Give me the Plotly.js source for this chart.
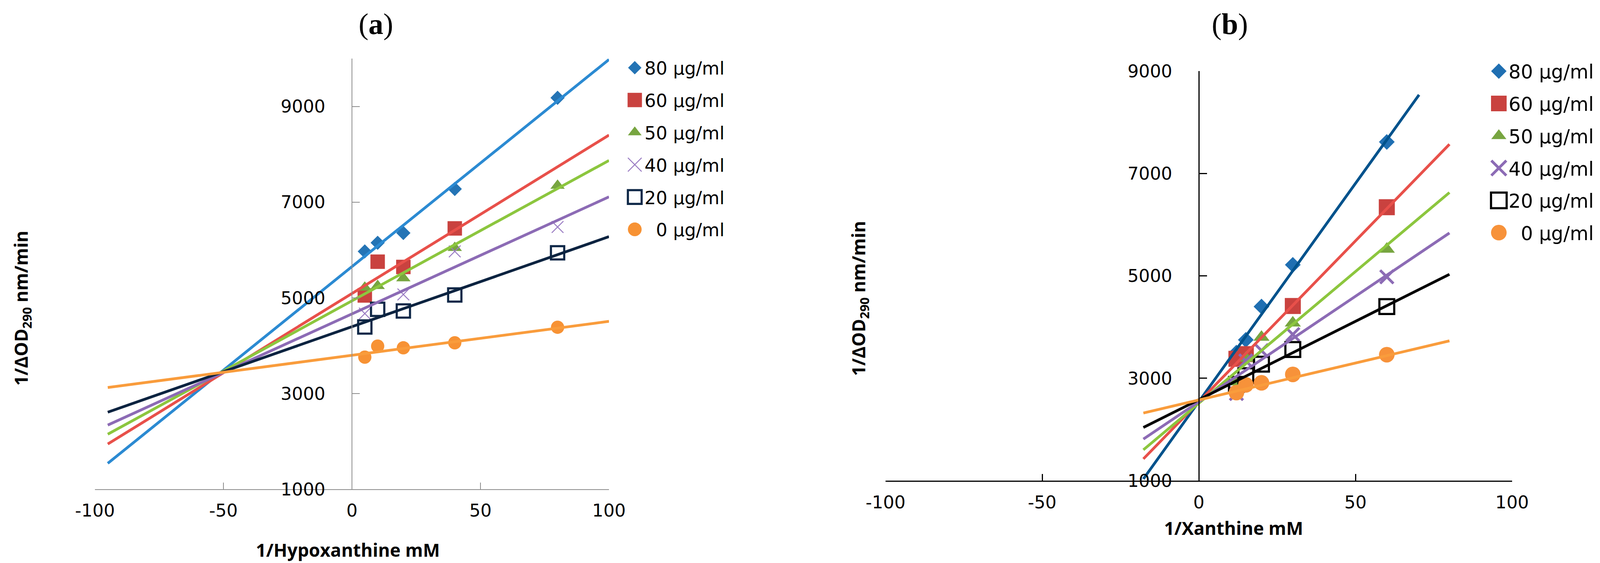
<!DOCTYPE html>
<html><head><meta charset="utf-8">
<script src="https://cdn.plot.ly/plotly-3.0.1.min.js"></script>
<style>html,body{margin:0;padding:0;background:#fff}</style>
</head><body>
<div id="chart" style="width:4138px;height:1442px"></div>
<script>
// ---------- data ----------
const seriesNames = ['80 μg/ml', '60 μg/ml', '50 μg/ml', '40 μg/ml', '20 μg/ml', '\u00a0\u00a00 μg/ml'];

// Panel (a): 1/Hypoxanthine mM
const xA = [5, 10, 20, 40, 80];
const a80 = [5970, 6150, 6355, 7275, 9180];
const a60 = [5050, 5755, 5645, 6450, null];
const a50 = [5215, 5250, 5410, 6045, 7345];
const a40 = [4670, null, 5070, 5970, 6480];
const a20 = [4390, 4760, 4725, 5060, 5940];
const a0  = [3760, 3990, 3955, 4060, 4385];
// trend lines (a): end points
const xTrendA = [-95, 100];
const tA80 = [1540, 9980];
const tA60 = [1945, 8400];
const tA50 = [2150, 7870];
const tA40 = [2340, 7110];
const tA20 = [2610, 6278];
const tA0  = [3125, 4508];

// Panel (b): 1/Xanthine mM
const xB = [12, 15, 20, 30, 60];
const b80 = [3500, 3750, 4400, 5215, 7615];
const b60 = [3380, 3470, null, 4410, 6340];
const b50 = [2930, 3390, 3800, 4080, 5520];
const b40 = [2700, 3340, 3540, 3855, 4980];
const b20 = [2880, 3050, 3275, 3560, 4400];
const b0  = [2720, 2870, 2910, 3075, 3460];
const xTrendB = [-17.7, 80];
const xTrendB80 = [-17.7, 70.3];
const tB80 = [1033, 8536];
const tB60 = [1424, 7570];
const tB50 = [1601, 6627];
const tB40 = [1811, 5837];
const tB20 = [2038, 5030];
const tB0  = [2320, 3730];

// ticks
const xTicks = [-100, -50, 0, 50, 100];
const yTicksA = [1000, 3000, 5000, 7000, 9000];
const yTicksB = [1000, 3000, 5000, 7000, 9000];

// ---------- styles ----------
const W = 4138, H = 1442;
const FONT = 'DejaVu Sans, Open Sans, sans-serif';
const TFONT = 'Open Sans, DejaVu Sans, sans-serif';
const SERIF = 'Liberation Serif, DejaVu Serif, serif';

const stA = [
  {sym: 'diamond',      mc: '#2474b5', lc: '#2b8ad2', size: 28, lw: 0, ls: 1.65},
  {sym: 'square',       mc: '#c9423f', lc: '#e8504a', size: 37, lw: 0, ls: 2.3},
  {sym: 'triangle-up',  mc: '#77a540', lc: '#8cc63e', size: 32, lw: 0, ls: 1.9},
  {sym: 'x-thin-open',  mc: '#9a7cc3', lc: '#8c6bb5', size: 30, lw: 2.5, ls: 2.2},
  {sym: 'square-open',  mc: '#0f2848', lc: '#0c2340', size: 34, lw: 5.5, ls: 2.2},
  {sym: 'circle',       mc: '#f79234', lc: '#f99c3c', size: 34, lw: 0, ls: 2.2}
];
const stB = [
  {sym: 'diamond',      mc: '#1f6fb2', lc: '#00528c', size: 31, lw: 0, ls: 1.9},
  {sym: 'square',       mc: '#c9423f', lc: '#e8504a', size: 41, lw: 0, ls: 2.5},
  {sym: 'triangle-up',  mc: '#77a540', lc: '#8cc63e', size: 36, lw: 0, ls: 2.1},
  {sym: 'x-thin-open',  mc: '#8c6bb5', lc: '#8c6bb5', size: 34, lw: 7, ls: 2.4},
  {sym: 'square-open',  mc: '#000000', lc: '#000000', size: 38, lw: 5.5, ls: 2.5},
  {sym: 'circle',       mc: '#f7923a', lc: '#f99c3c', size: 40, lw: 0, ls: 2.5}
];

const ptsA = [a80, a60, a50, a40, a20, a0];
const trA = [tA80, tA60, tA50, tA40, tA20, tA0];
const ptsB = [b80, b60, b50, b40, b20, b0];
const trB = [tB80, tB60, tB50, tB40, tB20, tB0];

const traces = [];
// markers first (trend lines drawn on top, as in the original)
ptsA.forEach((ys, i) => {
  const s = stA[i];
  traces.push({
    type: 'scatter', mode: 'markers', x: xA, y: ys, name: seriesNames[i],
    xaxis: 'x', yaxis: 'y', legend: 'legend', legendgroup: 'a' + i,
    marker: {symbol: s.sym, color: s.mc, size: s.size, line: {width: s.lw, color: s.mc}},
    meta: {ls: s.ls, lw: s.lw}, hoverinfo: 'skip'
  });
});
ptsB.forEach((ys, i) => {
  const s = stB[i];
  traces.push({
    type: 'scatter', mode: 'markers', x: xB, y: ys, name: seriesNames[i],
    xaxis: 'x2', yaxis: 'y2', legend: 'legend2', legendgroup: 'b' + i,
    marker: {symbol: s.sym, color: s.mc, size: s.size, line: {width: s.lw, color: s.mc}},
    meta: {ls: s.ls, lw: s.lw}, hoverinfo: 'skip'
  });
});
trA.forEach((ys, i) => {
  traces.push({
    type: 'scatter', mode: 'lines', x: xTrendA, y: ys, showlegend: false,
    xaxis: 'x', yaxis: 'y', line: {color: stA[i].lc, width: 7}, hoverinfo: 'skip'
  });
});
trB.forEach((ys, i) => {
  traces.push({
    type: 'scatter', mode: 'lines', x: i === 0 ? xTrendB80 : xTrendB, y: ys, showlegend: false,
    xaxis: 'x2', yaxis: 'y2', line: {color: stB[i].lc, width: 7}, hoverinfo: 'skip'
  });
});

const domXA = [243 / W, 1559 / W];
const domXB = [2267 / W, 3871 / W];
const domYA = [1 - 1253 / H, 1 - 150 / H];
const domYB = [1 - 1231 / H, 1 - 182 / H];

function xAxis(dom, color, lw, anchor) {
  return {
    domain: dom, range: [-100, 100], anchor: anchor, tickmode: 'array', tickvals: xTicks,
    ticktext: xTicks.map(String), ticks: 'inside', ticklen: 17, tickwidth: lw, tickcolor: color,
    showline: true, linecolor: color, linewidth: lw, showgrid: false, zeroline: false,
    tickfont: {family: FONT, size: 45, color: '#000'}, ticklabelstandoff: 14, fixedrange: true
  };
}
function yAxis(dom, range, ticks, color, lw, pos) {
  return {
    domain: dom, range: range, anchor: 'free', position: pos,
    tickmode: 'array', tickvals: ticks, ticktext: ticks.map(String), ticks: 'inside', ticklen: 19,
    tickwidth: lw, tickcolor: color, showline: true, linecolor: color, linewidth: lw,
    showgrid: false, zeroline: false, tickfont: {family: FONT, size: 45, color: '#000'},
    ticklabelstandoff: 58, fixedrange: true
  };
}

const layout = {
  width: W, height: H, margin: {l: 0, r: 0, t: 0, b: 0, pad: 0},
  paper_bgcolor: '#ffffff', plot_bgcolor: 'rgba(0,0,0,0)',
  font: {family: FONT, size: 45, color: '#000'},
  xaxis: xAxis(domXA, '#8c8c8c', 2, 'y'),
  yaxis: yAxis(domYA, [1000, 10000], yTicksA, '#8c8c8c', 2, (domXA[0] + domXA[1]) / 2),
  xaxis2: xAxis(domXB, '#000000', 3, 'y2'),
  yaxis2: yAxis(domYB, [1000, 9000], yTicksB, '#000000', 3, (domXB[0] + domXB[1]) / 2),
  legend: {
    x: 1600 / W, y: 1 - 137 / H, xanchor: 'left', yanchor: 'top', bgcolor: 'rgba(0,0,0,0)',
    font: {family: FONT, size: 46, color: '#000'}, itemwidth: 40, traceorder: 'grouped',
    tracegroupgap: 20, borderwidth: 0
  },
  legend2: {
    x: 3812 / W, y: 1 - 144 / H, xanchor: 'left', yanchor: 'top', bgcolor: 'rgba(0,0,0,0)',
    font: {family: FONT, size: 49, color: '#000'}, itemwidth: 40, traceorder: 'grouped',
    tracegroupgap: 16, borderwidth: 0
  },
  annotations: [
    {text: '(<b>a</b>)', x: 962 / W, y: 1 - 62 / H, xref: 'paper', yref: 'paper', showarrow: false,
     xanchor: 'center', yanchor: 'middle', font: {family: SERIF, size: 76, color: '#000'}},
    {text: '(<b>b</b>)', x: 3148 / W, y: 1 - 62 / H, xref: 'paper', yref: 'paper', showarrow: false,
     xanchor: 'center', yanchor: 'middle', font: {family: SERIF, size: 76, color: '#000'}},
    {text: '<b>1/Hypoxanthine mM</b>', x: 890 / W, y: 1 - 1408 / H, xref: 'paper', yref: 'paper', showarrow: false,
     xanchor: 'center', yanchor: 'middle', font: {family: TFONT, size: 46, color: '#000'}},
    {text: '<b>1/Xanthine mM</b>', x: 3158 / W, y: 1 - 1352 / H, xref: 'paper', yref: 'paper', showarrow: false,
     xanchor: 'center', yanchor: 'middle', font: {family: TFONT, size: 46, color: '#000'}},
    {text: '<b>1/ΔOD<sub>290</sub> nm/min</b>', x: 56 / W, y: 1 - 790 / H, xref: 'paper', yref: 'paper', showarrow: false,
     textangle: -90, xanchor: 'center', yanchor: 'middle', font: {family: TFONT, size: 46, color: '#000'}},
    {text: '<b>1/ΔOD<sub>290</sub> nm/min</b>', x: 2200 / W, y: 1 - 765 / H, xref: 'paper', yref: 'paper', showarrow: false,
     textangle: -90, xanchor: 'center', yanchor: 'middle', font: {family: TFONT, size: 46, color: '#000'}}
  ]
};

function enlargeLegendSymbols() {
  const groups = document.querySelectorAll('g.infolayer g.traces');
  groups.forEach(g => {
    const d = g.__data__;
    const tr = d && d[0] && d[0].trace;
    if (!tr || !tr.meta || !tr.meta.ls) return;
    g.querySelectorAll('.legendpoints path.scatterpts').forEach(p => {
      if (p.getAttribute('data-scaled')) return;
      const t = p.getAttribute('transform') || '';
      p.setAttribute('transform', t + ' scale(' + tr.meta.ls + ')');
      p.setAttribute('data-scaled', '1');
      const lw = tr.meta.lw || 0;
      p.style.strokeWidth = (lw / tr.meta.ls) + 'px';
    });
  });
}

Plotly.newPlot('chart', traces, layout, {staticPlot: true, displayModeBar: false})
  .then(enlargeLegendSymbols);
</script>
</body></html>
